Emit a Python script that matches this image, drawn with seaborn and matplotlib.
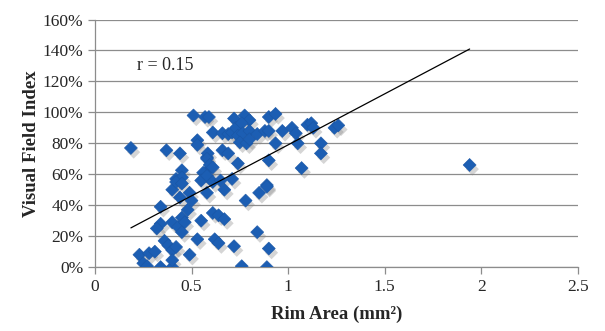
import numpy as np
import pandas as pd
import matplotlib
matplotlib.use("Agg")
import matplotlib.pyplot as plt
import matplotlib.patheffects as pe
from matplotlib.ticker import PercentFormatter
import seaborn as sns

# rim area (mm2) and visual field index (fraction)
rim_area = [0.51, 0.57, 0.186, 0.37, 0.44, 0.53, 0.53, 0.58, 0.58, 0.45,
            0.42, 0.45, 0.56, 0.55, 0.59, 0.72, 0.775, 0.80, 0.90, 0.935,
            0.61, 0.66, 0.69, 0.71, 0.73, 0.76, 0.74, 0.765, 0.80, 0.75,
            0.785, 0.80, 0.84, 0.88, 0.90, 0.97, 0.935, 0.584, 0.58, 0.594,
            0.61, 0.66, 0.69, 0.74, 0.90, 0.58, 0.61, 0.65, 0.71, 0.89,
            1.02, 1.04, 1.10, 1.12, 1.13, 1.24, 1.26, 1.05, 1.17, 1.17,
            1.07, 1.94, 0.40, 0.42, 0.45, 0.44, 0.49, 0.50, 0.34, 0.48,
            0.34, 0.32, 0.40, 0.43, 0.45, 0.465, 0.45, 0.55, 0.53, 0.36,
            0.38, 0.40, 0.42, 0.23, 0.28, 0.31, 0.25, 0.27, 0.34, 0.40,
            0.40, 0.49, 0.58, 0.67, 0.78, 0.85, 0.89, 0.61, 0.64, 0.67,
            0.84, 0.62, 0.64, 0.72, 0.90, 0.76, 0.89]
vf_index = [0.98, 0.97, 0.77, 0.755, 0.735, 0.82, 0.79, 0.71, 0.62, 0.626,
            0.57, 0.58, 0.61, 0.56, 0.97, 0.96, 0.98, 0.95, 0.97, 0.99,
            0.87, 0.865, 0.86, 0.87, 0.90, 0.93, 0.85, 0.865, 0.88, 0.806,
            0.80, 0.826, 0.86, 0.88, 0.88, 0.88, 0.80, 0.735, 0.70, 0.66,
            0.645, 0.755, 0.735, 0.67, 0.69, 0.59, 0.55, 0.56, 0.57, 0.53,
            0.90, 0.865, 0.92, 0.93, 0.90, 0.90, 0.916, 0.80, 0.80, 0.735,
            0.64, 0.66, 0.50, 0.55, 0.54, 0.45, 0.48, 0.43, 0.39, 0.37,
            0.28, 0.25, 0.29, 0.26, 0.32, 0.29, 0.226, 0.30, 0.18, 0.17,
            0.14, 0.11, 0.13, 0.08, 0.09, 0.10, 0.025, 0.006, 0.0, 0.0,
            0.045, 0.08, 0.48, 0.50, 0.43, 0.48, 0.52, 0.35, 0.335, 0.31,
            0.226, 0.18, 0.155, 0.135, 0.12, 0.006, 0.0]

# excel linear trendline
trend_slope = 0.659
trend_intercept = 0.131
r_label = "r = 0.15"

df = pd.DataFrame({"rim": rim_area, "vfi": vf_index})

sns.set_style("white")
plt.rcParams["font.family"] = ["Liberation Serif", "DejaVu Serif"]

fig = plt.figure(figsize=(6.05, 3.31), dpi=100)
ax = fig.add_axes([0.157, 0.193, 0.798, 0.748])

shadow = [pe.SimplePatchShadow(offset=(2, -3), shadow_rgbFace="#888888", alpha=0.35), pe.Normal()]
sns.scatterplot(data=df, x="rim", y="vfi", marker="D", s=44, color="#1C5EB3",
                edgecolor="#1A56A5", linewidth=0.4, ax=ax, zorder=3)
ax.collections[0].set_path_effects(shadow)

xt = np.array([df["rim"].min(), df["rim"].max()])
sns.lineplot(x=xt, y=trend_intercept + trend_slope * xt, color="black", linewidth=0.9, ax=ax, zorder=4)

ax.text(0.22, 1.30, r_label, fontsize=13, va="center", ha="left")

ax.set_xlim(0, 2.5)
ax.set_ylim(0, 1.6)
ax.set_xticks([0, 0.5, 1, 1.5, 2, 2.5])
ax.set_xticklabels(["0", "0.5", "1", "1.5", "2", "2.5"])
ax.set_yticks(np.arange(0, 1.61, 0.2))
ax.yaxis.set_major_formatter(PercentFormatter(1.0, decimals=0))
ax.grid(axis="y", color="#8c8c8c", linewidth=0.9)
ax.set_axisbelow(True)
for side in ["top", "right"]:
    ax.spines[side].set_visible(False)
for side in ["left", "bottom"]:
    ax.spines[side].set_color("#8c8c8c")
    ax.spines[side].set_linewidth(0.9)
ax.tick_params(axis="both", direction="out", length=5, width=0.9, color="#8c8c8c",
               labelsize=12.5, bottom=True, left=True)
ax.set_xlabel("Rim Area (mm²)", fontsize=13.5, fontweight="bold", labelpad=8)
ax.set_ylabel("Visual Field Index", fontsize=13.5, fontweight="bold", labelpad=2)

fig.savefig("out.png", dpi=100)
